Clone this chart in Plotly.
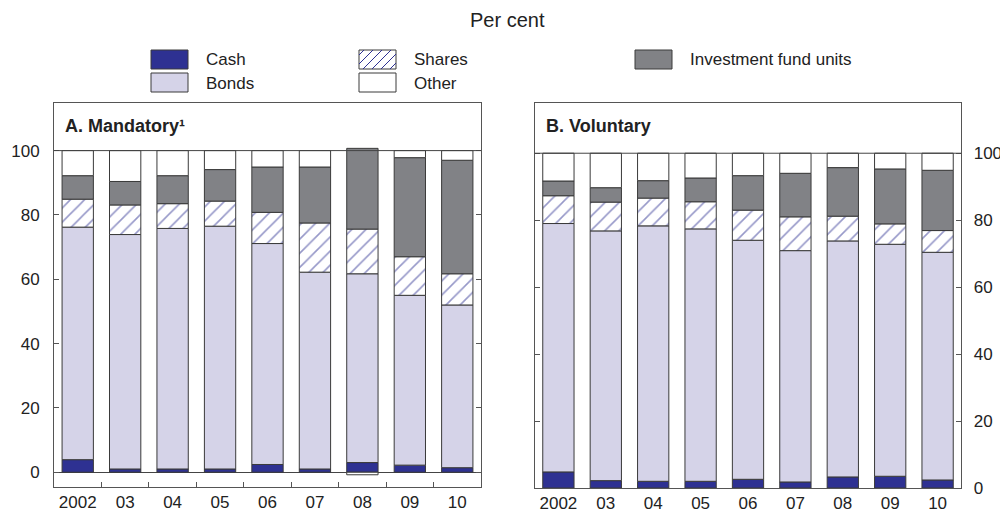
import plotly.graph_objects as go

# ---------------- data ----------------
years = ["2002", "03", "04", "05", "06", "07", "08", "09", "10"]

# A. Mandatory (per cent, stacked segments)
cash_m = [3.9, 1.0, 1.0, 1.0, 2.4, 1.0, 3.0, 2.2, 1.4]
bonds_m = [72.3, 72.9, 74.8, 75.5, 68.7, 61.2, 58.7, 52.8, 50.6]
shares_m = [8.7, 9.2, 7.7, 7.8, 9.7, 15.3, 13.9, 12.0, 9.7]
ifu_m = [7.3, 7.3, 8.7, 9.8, 14.1, 17.4, 25.1, 30.8, 35.3]
other_m = [7.8, 9.6, 7.8, 5.9, 5.1, 5.1, -0.8, 2.2, 3.0]

# B. Voluntary
cash_v = [4.8, 2.2, 2.0, 2.0, 2.6, 1.8, 3.3, 3.5, 2.4]
bonds_v = [74.2, 74.6, 76.3, 75.4, 71.4, 69.1, 70.5, 69.3, 68.0]
shares_v = [8.3, 8.6, 8.3, 8.1, 9.0, 10.1, 7.4, 6.1, 6.5]
ifu_v = [4.4, 4.3, 5.2, 7.1, 10.3, 13.0, 14.5, 16.4, 18.0]
other_v = [8.3, 10.3, 8.2, 7.4, 6.7, 6.0, 4.3, 4.7, 5.1]

series_names = ["Cash", "Bonds", "Shares", "Investment fund units", "Other"]
y_ticks = [0, 20, 40, 60, 80, 100]

# ---------------- style ----------------
# the page body has an 8px margin, so the figure is 1000x504 starting at (8, 8)
OFF = 8
W, H = 1000, 504
FONT = "Liberation Sans, Arial, sans-serif"
TXT = "#222222"
EDGE = "#3a3a3a"
AXC = "#555555"
C_CASH = "#2E3192"
C_BOND = "#D5D3E8"
C_IFU = "#818286"
C_HATCH = "#2E3192"


def px(x):
    return (x - OFF) / W


def py(y):
    return 1 - (y - OFF) / H


def style(name):
    if name == "Cash":
        return dict(color=C_CASH)
    if name == "Bonds":
        return dict(color=C_BOND)
    if name == "Shares":
        return dict(color="white",
                    pattern=dict(shape="/", fgcolor=C_HATCH, bgcolor="white",
                                 size=10, solidity=0.16, fillmode="overlay"))
    if name == "Investment fund units":
        return dict(color=C_IFU)
    return dict(color="white")


fig = go.Figure()
panels = [
    ("x", "y", [cash_m, bonds_m, shares_m, ifu_m, other_m]),
    ("x2", "y2", [cash_v, bonds_v, shares_v, ifu_v, other_v]),
]
for xa, ya, vals in panels:
    for name, v in zip(series_names, vals):
        m = style(name)
        m["line"] = dict(color=EDGE, width=1)
        fig.add_trace(go.Bar(x=years, y=v, name=name, marker=m, xaxis=xa, yaxis=ya,
                             showlegend=False))

axis_common = dict(showline=True, linecolor=AXC, linewidth=1, showgrid=False,
                   automargin=False,
                   tickfont=dict(family=FONT, size=17, color=TXT), fixedrange=True)

fig.update_layout(
    width=W, height=H,
    margin=dict(l=0, r=0, t=0, b=0),
    paper_bgcolor="white", plot_bgcolor="white",
    barmode="relative", bargap=0.34,
    font=dict(family=FONT, color=TXT),
    xaxis=dict(domain=[px(54), px(481)], anchor="y", type="category",
               range=[-0.5, 8.5], mirror=True, ticks="inside", tickson="boundaries",
               ticklen=5, tickcolor=AXC, ticklabelstandoff=0, tickangle=0, **axis_common),
    yaxis=dict(domain=[py(487), py(103)], anchor="x", range=[-4.6, 114.8],
               tickvals=y_ticks, ticks="inside", ticklen=5, tickcolor=AXC,
               mirror="ticks", zeroline=True, zerolinecolor="#444444", zerolinewidth=1,
               ticklabelstandoff=10, **axis_common),
    xaxis2=dict(domain=[px(534.7), px(961.3)], anchor="y2", type="category",
                range=[-0.5, 8.5], mirror=True, ticks="", ticklabelstandoff=0,
                tickangle=0, **axis_common),
    yaxis2=dict(domain=[py(488), py(103)], anchor="x2", range=[0, 115], side="right",
                tickvals=y_ticks, ticks="inside", ticklen=5, tickcolor=AXC,
                mirror="ticks", zeroline=False, ticklabelstandoff=8, **axis_common),
)

shapes = []
# horizontal reference lines at 100 in both panels
for xa, ya in [("x", "y"), ("x2", "y2")]:
    shapes.append(dict(type="line", xref=f"{xa} domain", yref=ya, x0=0, x1=1, y0=100, y1=100,
                       line=dict(color="#444444", width=1), layer="above"))

# ---------------- custom legend ----------------
legend_items = [
    ("Cash", 151, 50), ("Bonds", 151, 73),
    ("Shares", 359, 50), ("Other", 359, 73),
    ("Investment fund units", 635, 50),
]
SW, SH = 37, 19
annotations = []
for name, x0, y0 in legend_items:
    fill = style(name)["color"]
    shapes.append(dict(type="rect", xref="paper", yref="paper",
                       x0=px(x0), x1=px(x0 + SW), y0=py(y0 + SH), y1=py(y0),
                       fillcolor=fill, line=dict(color=EDGE, width=1)))
    if name == "Shares":
        x1, y1 = x0 + SW, y0 + SH
        k = x0 + y0 + 5
        while k < x1 + y1:
            xa_ = max(x0, k - y1)
            xb_ = min(x1, k - y0)
            if xb_ > xa_:
                shapes.append(dict(type="line", xref="paper", yref="paper",
                                   x0=px(xa_), y0=py(k - xa_), x1=px(xb_), y1=py(k - xb_),
                                   line=dict(color=C_HATCH, width=1)))
            k += 9
    annotations.append(dict(text=name, xref="paper", yref="paper",
                            x=px(x0 + SW + 16), y=py(y0 + SH / 2 + 0.5),
                            xanchor="left", yanchor="middle", showarrow=False,
                            font=dict(family=FONT, size=17, color=TXT)))

# title
annotations.append(dict(text="Per cent", xref="paper", yref="paper", x=px(507), y=py(20),
                        xanchor="center", yanchor="middle", showarrow=False,
                        font=dict(family=FONT, size=20, color=TXT)))
# panel headers
annotations.append(dict(text="<b>A. Mandatory¹</b>", xref="paper", yref="paper",
                        x=px(63), y=py(126), xanchor="left", yanchor="middle",
                        showarrow=False, font=dict(family=FONT, size=18, color=TXT)))
annotations.append(dict(text="<b>B. Voluntary</b>", xref="paper", yref="paper",
                        x=px(544), y=py(126), xanchor="left", yanchor="middle",
                        showarrow=False, font=dict(family=FONT, size=18, color=TXT)))

fig.update_layout(shapes=shapes, annotations=annotations)
fig.write_html("out.html")
